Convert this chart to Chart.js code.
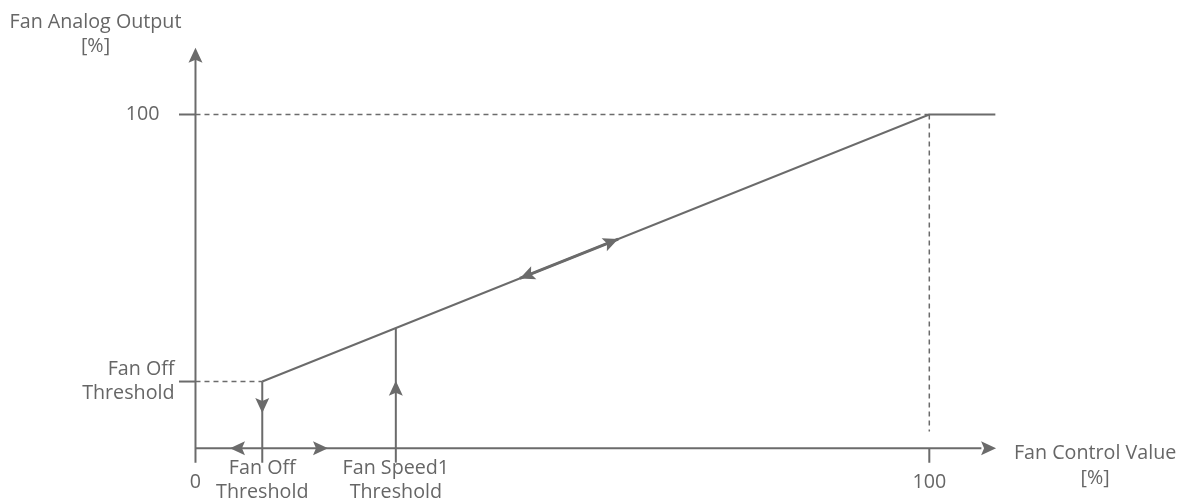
<!DOCTYPE html>
<html>
<head>
<meta charset="utf-8">
<script src="https://cdn.jsdelivr.net/npm/chart.js@4.4.1/dist/chart.umd.min.js"></script>
<style>
  html, body { margin: 0; padding: 0; background: #fff; }
  #wrap { width: 1189px; height: 502px; position: relative; }
</style>
</head>
<body>
<div id="wrap"><canvas id="chart"></canvas></div>
<script>
// --- DATI DEL DIAGRAMMA ---
const fanOffX = 9.1;        // Fan Off Threshold sull'asse x
const fanOffY = 20;         // Fan Off Threshold sull'asse y
const fanSpeed1X = 27.3;    // Fan Speed1 Threshold
const fullX = 100;
const fullY = 100;

const curveX = [fanOffX, 100, 109];
const curveY = [fanOffY, 100, 100];

const xAxisEnd = 109.1;
const yAxisEnd = 120;
const tickDrop = -4.3;      // quanto scendono i tick sotto l'asse x
const tickLeft = -2.25;     // quanto escono i tick a sinistra dell'asse y

// freccia doppia sulla retta
const hystArrowX = [44.2, 57.6];
// frecce sull'asse x (isteresi Fan Off)
const xAxisArrowX = [4.7, 18.06];
// punta freccia giu' su Fan Off, su Fan Speed1
const offArrowY = 10.6;
const speedArrowY = 20.2;

const yTickValues = [100, fanOffY];
const yTickLabels = [['100'], ['Fan Off', 'Threshold']];
const xTickValues = [0, fanOffX, fanSpeed1X, 100];
const xTickLabels = [['0'], ['Fan Off', 'Threshold'], ['Fan Speed1', 'Threshold'], ['100']];
const yAxisTitle = ['Fan Analog Output', '[%]'];
const xAxisTitle = ['Fan Control Value', '[%]'];

const lineGray = '#6b6b6b';
const textGray = '#666666';

function lineAt(x) {
    return curveY[0] + (x - curveX[0]) / (curveX[1] - curveX[0]) * (curveY[1] - curveY[0]);
}

function seg(x1, y1, x2, y2) {
    return [{ x: x1, y: y1 }, { x: x2, y: y2 }];
}

const solid = { borderColor: lineGray, borderWidth: 2, pointRadius: 0, showLine: true, fill: false };
const dashed = { ...solid, borderWidth: 1.5, borderDash: [5, 4] };

const datasets = [
    { ...solid, data: curveX.map((x, i) => ({ x: x, y: curveY[i] })) },
    { ...dashed, data: seg(0, fullY, fullX, fullY) },
    { ...dashed, data: seg(fullX, fullY, fullX, 5) },
    { ...dashed, data: seg(0, fanOffY, fanOffX, fanOffY) },
    // assi
    { ...solid, data: seg(0, tickDrop, 0, yAxisEnd - 2) },
    { ...solid, data: seg(0, 0, xAxisEnd - 2, 0) },
    // tick
    { ...solid, data: seg(tickLeft, fullY, 0, fullY) },
    { ...solid, data: seg(tickLeft, fanOffY, 0, fanOffY) },
    { ...solid, data: seg(fullX, 0, fullX, tickDrop) },
    // verticali
    { ...solid, data: seg(fanOffX, fanOffY, fanOffX, tickDrop) },
    { ...solid, data: seg(fanSpeed1X, tickDrop, fanSpeed1X, lineAt(fanSpeed1X)) },
    // freccia doppia (piu' spessa)
    { ...solid, borderWidth: 3, data: seg(hystArrowX[0], lineAt(hystArrowX[0]), hystArrowX[1], lineAt(hystArrowX[1])) }
];

// --- PLUGIN: frecce e testi ---
function drawArrow(ctx, tx, ty, angle) {
    const len = 15, half = 7, notch = 3;
    ctx.save();
    ctx.translate(tx, ty);
    ctx.rotate(angle);
    ctx.beginPath();
    ctx.moveTo(0, 0);
    ctx.lineTo(-len, -half);
    ctx.lineTo(-len + notch, 0);
    ctx.lineTo(-len, half);
    ctx.closePath();
    ctx.fillStyle = lineGray;
    ctx.fill();
    ctx.restore();
}

const decorPlugin = {
    id: 'decor',
    afterDatasetsDraw(chart) {
        const ctx = chart.ctx;
        const sx = chart.scales.x, sy = chart.scales.y;
        const px = v => sx.getPixelForValue(v);
        const py = v => sy.getPixelForValue(v);

        // frecce
        drawArrow(ctx, px(0), py(yAxisEnd), -Math.PI / 2);
        drawArrow(ctx, px(xAxisEnd), py(0), 0);
        drawArrow(ctx, px(xAxisArrowX[0]), py(0), Math.PI);
        drawArrow(ctx, px(xAxisArrowX[1]), py(0), 0);
        drawArrow(ctx, px(fanOffX), py(offArrowY), Math.PI / 2);
        drawArrow(ctx, px(fanSpeed1X), py(speedArrowY), -Math.PI / 2);
        const a0 = { x: px(hystArrowX[0]), y: py(lineAt(hystArrowX[0])) };
        const a1 = { x: px(hystArrowX[1]), y: py(lineAt(hystArrowX[1])) };
        const ang = Math.atan2(a1.y - a0.y, a1.x - a0.x);
        drawArrow(ctx, a1.x, a1.y, ang);
        drawArrow(ctx, a0.x, a0.y, ang + Math.PI);

        // testi
        ctx.save();
        ctx.fillStyle = textGray;
        ctx.font = '19.7px "Open Sans"';
        ctx.textBaseline = 'middle';
        const lh = 24;

        ctx.textAlign = 'right';
        yTickLabels.forEach((lines, i) => {
            const y = py(yTickValues[i]);
            const x = lines.length > 1 ? px(0) - 21 : px(0) - 36;
            const y0 = y - (lines.length - 1) * lh / 2;
            lines.forEach((t, j) => ctx.fillText(t, x, y0 + j * lh));
        });

        ctx.textAlign = 'center';
        xTickLabels.forEach((lines, i) => {
            const x = px(xTickValues[i]);
            const y0 = lines.length > 1 ? py(0) + 20 : py(0) + 34;
            lines.forEach((t, j) => ctx.fillText(t, x, y0 + j * lh));
        });

        yAxisTitle.forEach((t, j) => ctx.fillText(t, px(0) - 100, 22 + j * lh));
        xAxisTitle.forEach((t, j) => ctx.fillText(t, px(xAxisEnd) + 99, py(0) + 5 + j * 25));
        ctx.restore();
    }
};

new Chart(document.getElementById('chart'), {
    type: 'scatter',
    data: { datasets: datasets },
    options: {
        responsive: true,
        maintainAspectRatio: false,
        animation: false,
        layout: { padding: 0 },
        plugins: { legend: { display: false }, tooltip: { enabled: false } },
        scales: {
            x: { type: 'linear', display: false, min: -26.64, max: 135.39 },
            y: { type: 'linear', display: false, min: -16.09, max: 134.30 }
        }
    },
    plugins: [decorPlugin]
});
</script>
</body>
</html>
